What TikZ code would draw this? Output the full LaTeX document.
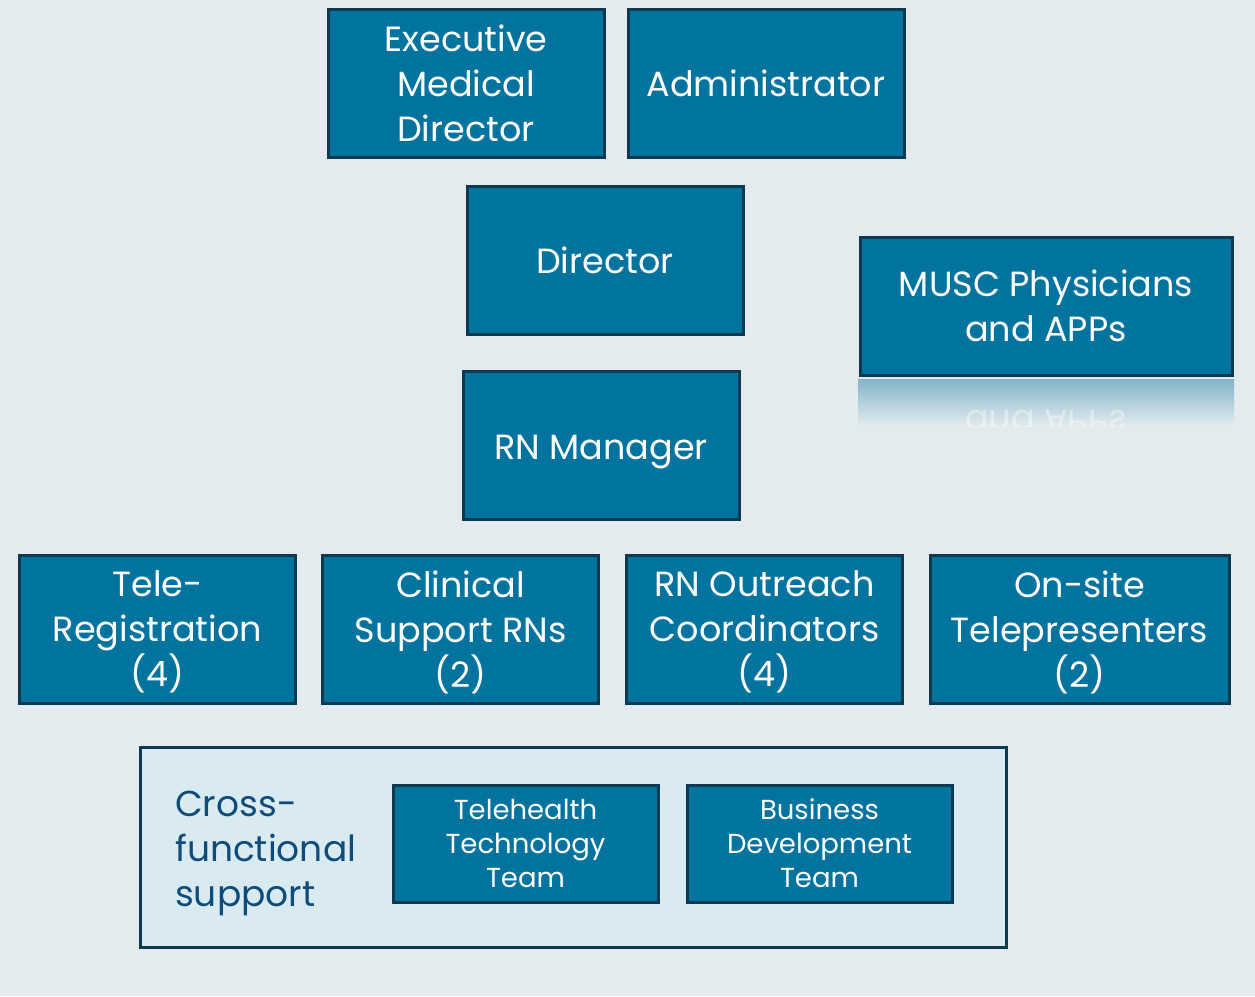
\documentclass[tikz,border=0pt]{standalone}
\usepackage{fontspec}
\setmainfont{Poppins}
\definecolor{fondo}{HTML}{E3EBEF}
\definecolor{azulCaja}{HTML}{00739E}
\definecolor{bordeCaja}{HTML}{0B3A52}
\definecolor{azulClaro}{HTML}{D9EBF1}
\definecolor{azulTexto}{HTML}{0E4C7C}
\definecolor{reflejo}{HTML}{82B4C8}

\begin{document}
\begin{tikzpicture}[
                x=1pt, y=-1pt,
                caja/.style={rectangle, draw=bordeCaja, line width=3pt, fill=azulCaja, text=white,
                             align=center, minimum width=276pt, minimum height=148pt, inner sep=0pt,
                             font=\fontsize{35}{45}\selectfont},
                cajita/.style={caja, minimum width=265pt, minimum height=117pt,
                             font=\fontsize{27.5}{34}\selectfont}
            ]
            \fill[fondo] (0,0) rectangle (1255,996);
            \useasboundingbox (0,0) rectangle (1255,996);

            % top row
            \node[caja] (exec) at (466,83.5) {Executive\\Medical\\Director};
            \node[caja] (admin) at (766,83.5) {Administrator};
            \node[caja] (dir) at (605,260) {Director};
            \node[caja, minimum width=372pt, minimum height=138pt] (musc) at (1046,306) {MUSC Physicians\\and APPs};

            % reflection under the physicians box
            \begin{scope}
                \clip (858,379) rectangle (1234,426);
                \shade[top color=reflejo, bottom color=fondo] (858,379) rectangle (1234,426);
                \node[white, opacity=.4, yscale=-1, transform shape, font=\fontsize{35}{45}\selectfont] (muscrefl) at (1046,423) {and APPs};
            \end{scope}

            \node[caja, text height=38pt] (rnmgr) at (601,445) {RN Manager};

            % staff row
            \node[caja] (telereg) at (157.5,629) {Tele-\\Registration\\\smash{(4)}};
            \node[caja] (clinical) at (460.5,629) {Clinical\\Support RNs\\\smash{(2)}};
            \node[caja] (outreach) at (764.5,629) {RN Outreach\\Coordinators\\\smash{(4)}};
            \node[caja, minimum width=299pt] (onsite) at (1079.5,629) {On-site\\Telepresenters\\\smash{(2)}};

            % support group
            \node[rectangle, draw=bordeCaja, line width=3pt, fill=azulClaro, minimum width=866pt,
                  minimum height=200pt] (cross) at (573.5,847.5) {};
            \node[anchor=west, align=left, text=azulTexto, inner sep=0pt,
                  font=\fontsize{36}{45}\selectfont] (crosslabel) at (175,853) {Cross-\\functional\\support};
            \node[cajita] (techteam) at (525.5,843.5) {Telehealth\\Technology\\Team};
            \node[cajita] (bizteam) at (819.5,843.5) {Business\\Development\\Team};
        \end{tikzpicture}
\end{document}
